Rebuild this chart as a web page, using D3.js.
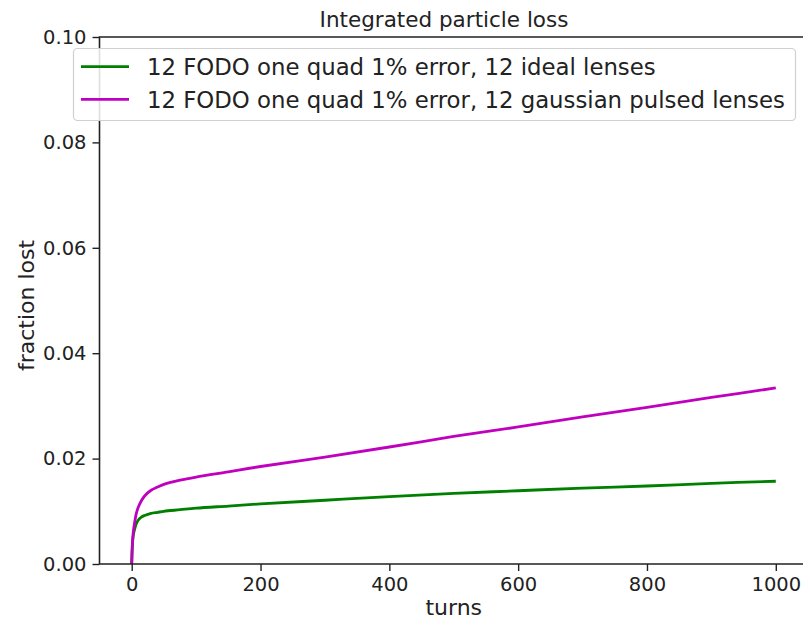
<!DOCTYPE html>
<html>
<head>
<meta charset="utf-8">
<script src="https://cdn.jsdelivr.net/npm/d3@7"></script>
<style>
  html, body { margin: 0; padding: 0; background: #fff; }
  svg { display: block; font-family: "DejaVu Sans", sans-serif; }
</style>
</head>
<body>
<svg id="chart" width="803" height="621"></svg>
<script>
// Integrated particle loss vs. turns for two lens configurations
const turns = [0, 1, 2, 3, 5, 7, 10, 15, 20, 30, 40, 50, 75, 100, 150, 200, 300, 400, 500, 600, 700, 800, 900, 1000];
const idealLoss = [0, 0.0035, 0.0050, 0.0058, 0.0068, 0.0076, 0.0083, 0.0089, 0.0092, 0.0096, 0.0098, 0.0100, 0.0103, 0.0106, 0.0110, 0.0114, 0.0121, 0.0128, 0.0134, 0.0139, 0.0144, 0.0148, 0.0153, 0.0157];
const pulsedLoss = [0, 0.0035, 0.0055, 0.0066, 0.0082, 0.0095, 0.0107, 0.0120, 0.0129, 0.0140, 0.0146, 0.0151, 0.0159, 0.0165, 0.0175, 0.0185, 0.0203, 0.0222, 0.0242, 0.0260, 0.0279, 0.0297, 0.0316, 0.0334];
const seriesNames = ["12 FODO one quad 1% error, 12 ideal lenses", "12 FODO one quad 1% error, 12 gaussian pulsed lenses"];
const seriesColors = ["#008000", "#bf00bf"];
const xTicks = [0, 200, 400, 600, 800, 1000];
const yTicks = [0.00, 0.02, 0.04, 0.06, 0.08, 0.10];

const svg = d3.select("#chart");
const plot = { left: 99.5, top: 37, right: 808, bottom: 564 };

const x = d3.scaleLinear().domain([-50, 1050]).range([plot.left, plot.right]);
const y = d3.scaleLinear().domain([0, 0.1]).range([plot.bottom, plot.top]);

const series = [idealLoss, pulsedLoss].map((vals, i) => ({
  name: seriesNames[i],
  color: seriesColors[i],
  points: turns.map((t, j) => [t, vals[j]])
}));

// curves
const line = d3.line().x(d => x(d[0])).y(d => y(d[1])).curve(d3.curveCatmullRom.alpha(0.5));
svg.append("g").selectAll("path").data(series).join("path")
  .attr("d", d => line(d.points))
  .attr("fill", "none")
  .attr("stroke", d => d.color)
  .attr("stroke-width", 2.8)
  .attr("stroke-linejoin", "round");

// axes
const tickFont = 19.5;
const xAxis = svg.append("g").attr("transform", `translate(0,${plot.bottom})`)
  .call(d3.axisBottom(x).tickValues(xTicks).tickSize(7).tickPadding(6).tickFormat(d3.format("d")));
const yAxis = svg.append("g").attr("transform", `translate(${plot.left},0)`)
  .call(d3.axisLeft(y).tickValues(yTicks).tickSize(7).tickPadding(6).tickFormat(d3.format(".2f")));
[xAxis, yAxis].forEach(g => {
  g.select(".domain").remove();
  g.selectAll(".tick line").attr("stroke", "#222").attr("stroke-width", 1.4);
  g.selectAll(".tick text").attr("font-size", tickFont).attr("fill", "#222")
    .attr("font-family", "DejaVu Sans");
});

// frame (left, top, bottom spines; right edge falls outside the view)
svg.append("path")
  .attr("d", `M${plot.right},${plot.top}H${plot.left}V${plot.bottom}H${plot.right}`)
  .attr("fill", "none").attr("stroke", "#222").attr("stroke-width", 1.6);

// title & axis labels
svg.append("text").attr("x", 444).attr("y", 27)
  .attr("text-anchor", "middle").attr("font-size", 21.5).attr("fill", "#222")
  .text("Integrated particle loss");
svg.append("text").attr("x", (plot.left + plot.right) / 2).attr("y", 615)
  .attr("text-anchor", "middle").attr("font-size", 22).attr("fill", "#222")
  .text("turns");
svg.append("text").attr("transform", `translate(34,${(plot.top + plot.bottom) / 2 + 5}) rotate(-90)`)
  .attr("text-anchor", "middle").attr("font-size", 22).attr("fill", "#222")
  .text("fraction lost");

// legend
const legend = svg.append("g");
legend.append("rect")
  .attr("x", 73.5).attr("y", 48.5).attr("width", 722).attr("height", 72)
  .attr("rx", 4).attr("fill", "#fff").attr("fill-opacity", 0.85)
  .attr("stroke", "#d0d0d0").attr("stroke-width", 1.2);
const items = legend.selectAll("g.item").data(series).join("g")
  .attr("class", "item")
  .attr("transform", (d, i) => `translate(0,${66.7 + i * 32.6})`);
items.append("line").attr("x1", 81).attr("x2", 129)
  .attr("stroke", d => d.color).attr("stroke-width", 2.8);
items.append("text").attr("x", 147).attr("y", 0).attr("dy", "0.36em")
  .attr("font-size", 22.8).attr("fill", "#222")
  .text(d => d.name);
</script>
</body>
</html>
